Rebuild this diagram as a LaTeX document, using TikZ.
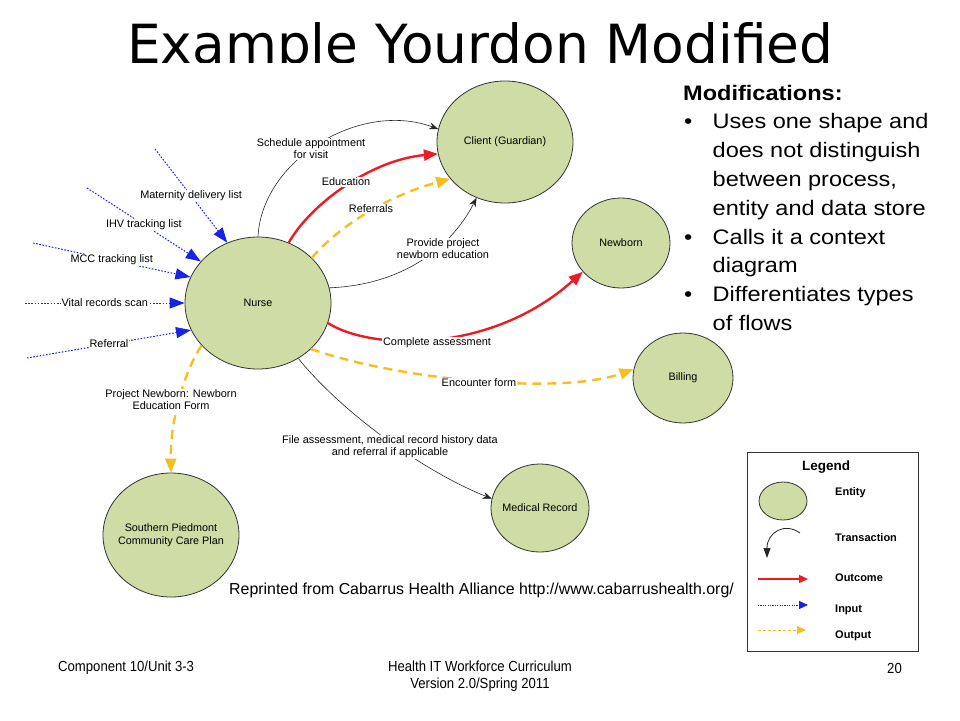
\documentclass[tikz,border=0pt]{standalone}
\usepackage{fontspec}
\setmainfont{Liberation Sans}
\newfontfamily\titlefont{DejaVu Sans}
\newfontfamily\modfont[FakeStretch=1.12]{Liberation Sans}
\newfontfamily\footfont[FakeStretch=0.9]{Liberation Sans}
\usetikzlibrary{arrows.meta,shapes.geometric}
\definecolor{entgreen}{RGB}{207,220,166}
\definecolor{myred}{RGB}{235,28,36}
\definecolor{myyellow}{RGB}{247,190,30}
\definecolor{myblue}{RGB}{25,35,230}
\begin{document}
\begin{tikzpicture}[x=1pt,y=-1pt,
  entity/.style={ellipse, draw=black!80, line width=0.8pt, fill=entgreen, inner xsep=-10pt, inner ysep=0pt,
    font=\fontsize{10.8}{12.8}\selectfont, align=center},
  lbl/.style={fill=white, inner sep=1pt, font=\fontsize{10.9}{12}\selectfont, align=center},
  legtxt/.style={anchor=west, inner sep=0pt, font=\bfseries\fontsize{11}{13}\selectfont},
  trans/.style={draw=black!85, line width=0.6pt, -{Stealth[length=9pt,width=7pt]}},
  outcome/.style={draw=myred, line width=2.4pt, -{Triangle[length=14pt,width=11pt]}},
  outflow/.style={draw=myyellow, line width=2.4pt, dash pattern=on 9pt off 6pt,
    -{Triangle[length=14pt,width=11pt]}},
  inflow/.style={draw=myblue, line width=1pt, dash pattern=on 1.6pt off 1.6pt,
    -{Triangle[length=15pt,width=11pt]}},
]
\useasboundingbox (0,0) rectangle (960,720);
\fill[white] (0,0) rectangle (960,720);

% title (clipped at the bottom as in the slide)
\begin{scope}
  \clip (0,0) rectangle (960,62.5);
  \node[anchor=base west, inner sep=0pt] (title) at (127,63)
    {\resizebox{706pt}{41pt}{\titlefont Example Yourdon Modified}};
\end{scope}

% entities
\node[entity, minimum width=146pt, minimum height=132pt] (nurse)   at (258,303) {Nurse};
\node[entity, minimum width=136pt, minimum height=122pt] (client)  at (505,142) {Client (Guardian)};
\node[entity, minimum width=98pt,  minimum height=90pt]  (newborn) at (621,243) {Newborn};
\node[entity, minimum width=100pt, minimum height=90pt]  (billing) at (683,378) {Billing};
\node[entity, minimum width=98pt,  minimum height=88pt]  (medrec)  at (540,508) {Medical Record};
\node[entity, minimum width=136pt, minimum height=124pt] (spcc)    at (171,535) {Southern Piedmont\\Community Care Plan};

% transactions / outcomes / outputs
\draw[trans]   (nurse.90)   .. controls (262,160) and (360,100) .. (client.169);
\draw[outcome] (nurse.63)   .. controls (310,205) and (370,160) .. (client.190);
\draw[outflow] (nurse.40)   .. controls (340,225) and (390,195) .. (client.214);
\draw[trans]   (nurse.12)   .. controls (400,285) and (450,250) .. (client.243);
\draw[outcome] (nurse.-16)  .. controls (370,350) and (490,355) .. (newborn.217);
\draw[outflow] (nurse.-41)  .. controls (400,380) and (560,395) .. (billing.170);
\draw[trans]   (nurse.-54)  .. controls (340,410) and (420,470) .. (medrec.169);
\draw[outflow] (nurse.217)  .. controls (185,370) and (170,420) .. (spcc.north);

\node[lbl] (lsched) at (311,149) {Schedule appointment\\for visit};
\node[lbl] (ledu)   at (346,182) {Education};
\node[lbl] (lref)   at (371,209) {Referrals};
\node[lbl] (lprov)  at (443,249) {Provide project\\newborn education};
\node[lbl] (lcomp)  at (437,343) {Complete assessment};
\node[lbl] (lenc)   at (479,383) {Encounter form};
\node[lbl] (lfile)  at (390,447) {File assessment, medical record history data\\and referral if applicable};
\node[lbl] (lproj)  at (171,400) {Project Newborn: Newborn\\Education Form};

% inputs
\coordinate (in1) at (155,149);
\coordinate (in2) at (87,188);
\coordinate (in3) at (33,243);
\coordinate (in4) at (25,303);
\coordinate (in5) at (27,358);
\draw[inflow] (in1) -- (nurse.117) node[lbl, pos=0.5] (lmat) {Maternity delivery list};
\draw[inflow] (in2) -- (nurse.144) node[lbl, pos=0.5] (lihv) {IHV tracking list};
\draw[inflow] (in3) -- (nurse.159) node[lbl, pos=0.5] (lmcc) {MCC tracking list};
\draw[inflow] (in4) -- (nurse.180) node[lbl, pos=0.5] (lvit) {Vital records scan};
\draw[inflow] (in5) -- (nurse.202) node[lbl, pos=0.5] (lrfl) {Referral};

% modifications text
\node[anchor=base west, inner sep=0pt] (mods) at (683,100) {\modfont\fontsize{21}{28.8}\selectfont
  \begin{tabular}[t]{@{}p{29.5pt}@{}l@{}}
  \multicolumn{2}{@{}l@{}}{\bfseries\fontsize{21}{28.8}\selectfont Modifications:}\\
  \hspace{1pt}\textbullet & Uses one shape and\\
   & does not distinguish\\
   & between process,\\
   & entity and data store\\
  \hspace{1pt}\textbullet & Calls it a context\\
   & diagram\\
  \hspace{1pt}\textbullet & Differentiates types\\
   & of flows
  \end{tabular}};

% legend
\node[draw=black!80, line width=0.8pt, anchor=north west, minimum width=171pt,
      minimum height=199pt, inner sep=0pt] (legbox) at (747,452) {};
\node[inner sep=0pt, font=\bfseries\fontsize{13.5}{15}\selectfont] (legtitle) at (826,467) {Legend};
\node[entity, minimum width=48pt, minimum height=38pt] (legent) at (783,501) {};
\node[legtxt] (lent) at (835,493) {Entity};
\coordinate (tr0) at (800,533);
\coordinate (tr1) at (767,558);
\draw[draw=black!85, line width=0.8pt, -{Triangle[length=10pt,width=7pt]}]
  (tr0) .. controls (785,522) and (767,532) .. (tr1);
\node[legtxt] (ltr) at (835,538) {Transaction};
\coordinate (oc0) at (758,579);
\coordinate (oc1) at (808,579);
\draw[draw=myred, line width=1.3pt, -{Triangle[length=9pt,width=8pt]}] (oc0) -- (oc1);
\node[legtxt] (loc) at (835,578) {Outcome};
\coordinate (ip0) at (758,605);
\coordinate (ip1) at (808,605);
\draw[draw=myblue, line width=0.8pt, dash pattern=on 1.2pt off 1.2pt,
      -{Triangle[length=9pt,width=8pt]}] (ip0) -- (ip1);
\node[legtxt] (lip) at (835,610) {Input};
\coordinate (op0) at (758,630);
\coordinate (op1) at (806,630);
\draw[draw=myyellow, line width=1pt, dash pattern=on 3pt off 2pt,
      -{Triangle[length=9pt,width=8pt]}] (op0) -- (op1);
\node[legtxt] (lop) at (835,636) {Output};

% credit and footer
\node[anchor=west, inner sep=0pt, font=\fontsize{15.9}{18}\selectfont] (credit) at (229,590)
  {Reprinted from Cabarrus Health Alliance http://www.cabarrushealth.org/};
\node[anchor=west, inner sep=0pt, font=\footfont\fontsize{14.6}{16.5}\selectfont] (foot1) at (58,668) {Component 10/Unit 3-3};
\node[inner sep=0pt, align=center, font=\footfont\fontsize{14.6}{16.5}\selectfont] (foot2) at (480,676)
  {Health IT Workforce Curriculum\\Version 2.0/Spring 2011};
\node[anchor=east, inner sep=0pt, font=\footfont\fontsize{14.6}{16.5}\selectfont] (foot3) at (902,668) {20};
\end{tikzpicture}
\end{document}
